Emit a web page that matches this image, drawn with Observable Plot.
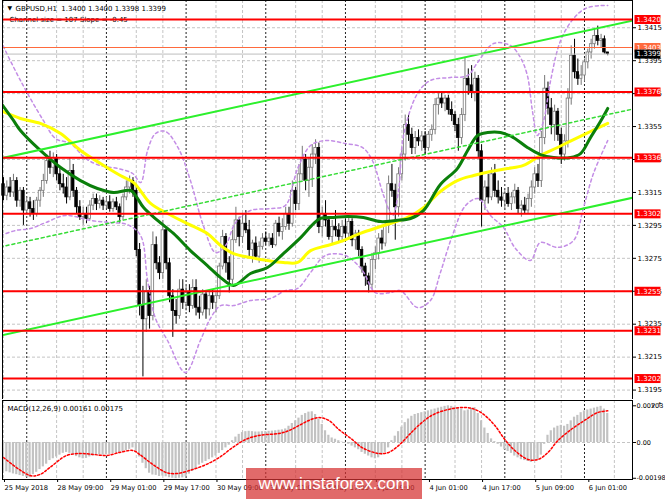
<!DOCTYPE html>
<html lang="en">
<head>
<meta charset="UTF-8">
<title>GBPUSD,H1</title>
<script src="https://cdn.jsdelivr.net/npm/d3@7"></script>
<script src="https://cdn.jsdelivr.net/npm/@observablehq/plot@0.6"></script>
<style>
  body { margin: 0; background: #fff; }
  #chart { position: relative; width: 665px; height: 499px; overflow: hidden; background: #fff; }
  #price, #macd { position: absolute; left: 0; }
  #price { top: 0; }
  #macd { top: 399px; }
  #wm { position: absolute; left: 246px; top: 468px; width: 176px; height: 31px;
        background: rgba(214, 48, 48, 0.72); color: #fff; text-align: center;
        font: 17px "Liberation Sans", Arial, sans-serif; line-height: 31px; }
</style>
</head>
<body>
<div id="chart">
  <div id="price"></div>
  <div id="macd"></div>
  <div id="wm">www.instaforex.com</div>
</div>
<script>
// time axis: one slot per H1 bar
const labelBars = [0, 16, 32, 48, 64, 80, 96, 112, 128, 144, 160, 176];
const labelText = ["25 May 2018", "28 May 09:00", "29 May 01:00", "29 May 17:00", "30 May 09:00", "31 May 01:00",
  "31 May 17:00", "1 Jun 09:00", "4 Jun 01:00", "4 Jun 17:00", "5 Jun 09:00", "6 Jun 01:00"];
const gridBars = [0, 16, 24, 40, 48, 64, 72, 88, 96, 112, 120, 136, 144, 160, 168, 184];
const daySep = [7, 31, 55, 79, 103, 127, 151, 175];

const priceTicks = [1.3195, 1.3215, 1.3235, 1.3255, 1.3275, 1.3295, 1.3315, 1.3335, 1.3355, 1.3375, 1.3395, 1.3415];
const levels = [1.3420, 1.3376, 1.3336, 1.3302, 1.3255, 1.3231, 1.3202];
const orangeLevel = 1.3403;
const bidLevel = 1.3399;

const open = [
1.3320,1.3313,1.3318,1.3315,1.3322,1.3310,1.3316,1.3304,1.3309,1.3305,
1.3302,1.3310,1.3316,1.3322,1.3334,1.3330,1.3336,1.3326,1.3320,1.3318,
1.3312,1.3328,1.3316,1.3306,1.3300,1.3302,1.3299,1.3307,1.3311,1.3308,
1.3310,1.3307,1.3309,1.3305,1.3309,1.3306,1.3300,1.3312,1.3318,1.3322,
1.3316,1.3280,1.3246,1.3238,1.3255,1.3240,1.3283,1.3272,1.3266,1.3292,
1.3272,1.3252,1.3243,1.3240,1.3256,1.3248,1.3254,1.3246,1.3257,1.3245,
1.3242,1.3253,1.3244,1.3252,1.3248,1.3252,1.3270,1.3288,1.3272,1.3262,
1.3286,1.3298,1.3288,1.3296,1.3292,1.3280,1.3284,1.3276,1.3282,1.3287,
1.3285,1.3287,1.3283,1.3296,1.3291,1.3294,1.3302,1.3296,1.3316,1.3308,
1.3326,1.3335,1.3322,1.3330,1.3338,1.3342,1.3294,1.3302,1.3298,1.3288,
1.3294,1.3292,1.3288,1.3294,1.3290,1.3297,1.3286,1.3290,1.3280,1.3270,
1.3264,1.3259,1.3274,1.3278,1.3287,1.3284,1.3295,1.3320,1.3316,1.3306,
1.3326,1.3338,1.3356,1.3350,1.3342,1.3348,1.3346,1.3349,1.3342,1.3350,
1.3353,1.3368,1.3372,1.3369,1.3372,1.3365,1.3362,1.3356,1.3348,1.3362,
1.3384,1.3380,1.3376,1.3384,1.3340,1.3310,1.3318,1.3312,1.3326,1.3316,
1.3312,1.3310,1.3314,1.3308,1.3312,1.3316,1.3305,1.3307,1.3304,1.3311,
1.3318,1.3326,1.3322,1.3348,1.3378,1.3366,1.3356,1.3364,1.3350,1.3338,
1.3346,1.3372,1.3398,1.3388,1.3384,1.3386,1.3394,1.3400,1.3405,1.3410,
1.3407,1.3408,1.3400];
const high = [
1.3324,1.3322,1.3324,1.3326,1.3324,1.3318,1.3318,1.3312,1.3312,1.3310,
1.3312,1.3318,1.3326,1.3338,1.3340,1.3339,1.3338,1.3330,1.3326,1.3324,
1.3336,1.3332,1.3318,1.3310,1.3306,1.3306,1.3310,1.3314,1.3314,1.3313,
1.3312,1.3312,1.3313,1.3311,1.3312,1.3308,1.3314,1.3322,1.3325,1.3324,
1.3320,1.3284,1.3258,1.3262,1.3258,1.3291,1.3288,1.3276,1.3298,1.3294,
1.3275,1.3256,1.3250,1.3262,1.3262,1.3258,1.3259,1.3262,1.3262,1.3252,
1.3256,1.3255,1.3256,1.3256,1.3254,1.3272,1.3292,1.3290,1.3276,1.3292,
1.3306,1.3300,1.3302,1.3304,1.3298,1.3286,1.3288,1.3285,1.3290,1.3291,
1.3290,1.3290,1.3298,1.3300,1.3299,1.3306,1.3306,1.3322,1.3318,1.3332,
1.3343,1.3338,1.3336,1.3344,1.3347,1.3345,1.3306,1.3310,1.3300,1.3298,
1.3304,1.3296,1.3298,1.3299,1.3300,1.3299,1.3292,1.3292,1.3282,1.3272,
1.3266,1.3278,1.3282,1.3290,1.3292,1.3298,1.3325,1.3332,1.3320,1.3330,
1.3342,1.3362,1.3362,1.3354,1.3352,1.3353,1.3352,1.3352,1.3352,1.3356,
1.3372,1.3375,1.3376,1.3374,1.3374,1.3370,1.3364,1.3360,1.3366,1.3397,
1.3390,1.3392,1.3388,1.3386,1.3344,1.3322,1.3326,1.3330,1.3332,1.3322,
1.3318,1.3316,1.3318,1.3315,1.3320,1.3318,1.3310,1.3312,1.3314,1.3322,
1.3330,1.3332,1.3352,1.3386,1.3382,1.3372,1.3368,1.3366,1.3354,1.3350,
1.3378,1.3404,1.3408,1.3396,1.3392,1.3396,1.3402,1.3408,1.3414,1.3416,
1.3411,1.3410,1.3400];
const low = [
1.3310,1.3310,1.3312,1.3312,1.3306,1.3306,1.3295,1.3302,1.3300,1.3298,
1.3300,1.3306,1.3312,1.3320,1.3326,1.3324,1.3322,1.3316,1.3314,1.3308,
1.3310,1.3312,1.3302,1.3298,1.3295,1.3296,1.3298,1.3304,1.3304,1.3305,
1.3304,1.3305,1.3303,1.3303,1.3304,1.3296,1.3298,1.3310,1.3314,1.3312,
1.3276,1.3240,1.3203,1.3230,1.3232,1.3237,1.3268,1.3262,1.3262,1.3268,
1.3248,1.3227,1.3235,1.3238,1.3244,1.3243,1.3242,1.3244,1.3240,1.3238,
1.3240,1.3238,1.3240,1.3244,1.3242,1.3250,1.3268,1.3266,1.3254,1.3258,
1.3284,1.3282,1.3284,1.3290,1.3276,1.3272,1.3274,1.3272,1.3280,1.3283,
1.3282,1.3281,1.3282,1.3288,1.3286,1.3292,1.3292,1.3294,1.3304,1.3304,
1.3322,1.3316,1.3312,1.3318,1.3332,1.3290,1.3288,1.3294,1.3286,1.3284,
1.3288,1.3284,1.3285,1.3288,1.3286,1.3282,1.3280,1.3276,1.3266,1.3258,
1.3254,1.3256,1.3268,1.3274,1.3280,1.3282,1.3290,1.3312,1.3286,1.3300,
1.3322,1.3334,1.3346,1.3338,1.3338,1.3343,1.3340,1.3338,1.3340,1.3346,
1.3350,1.3362,1.3366,1.3364,1.3362,1.3358,1.3352,1.3340,1.3344,1.3358,
1.3374,1.3372,1.3370,1.3336,1.3294,1.3304,1.3308,1.3310,1.3312,1.3308,
1.3306,1.3304,1.3306,1.3304,1.3308,1.3302,1.3300,1.3302,1.3302,1.3306,
1.3314,1.3318,1.3318,1.3344,1.3362,1.3350,1.3346,1.3346,1.3332,1.3334,
1.3342,1.3368,1.3384,1.3380,1.3380,1.3382,1.3390,1.3396,1.3402,1.3404,
1.3403,1.3399,1.3398];
const close = [
1.3313,1.3318,1.3315,1.3322,1.3310,1.3316,1.3304,1.3309,1.3305,1.3302,
1.3310,1.3316,1.3322,1.3334,1.3330,1.3336,1.3326,1.3320,1.3318,1.3312,
1.3328,1.3316,1.3306,1.3300,1.3302,1.3299,1.3307,1.3311,1.3308,1.3310,
1.3307,1.3309,1.3305,1.3309,1.3306,1.3300,1.3312,1.3318,1.3322,1.3316,
1.3280,1.3246,1.3238,1.3255,1.3240,1.3283,1.3272,1.3266,1.3292,1.3272,
1.3252,1.3243,1.3240,1.3256,1.3248,1.3254,1.3246,1.3257,1.3245,1.3242,
1.3253,1.3244,1.3252,1.3248,1.3252,1.3270,1.3288,1.3272,1.3262,1.3286,
1.3298,1.3288,1.3296,1.3292,1.3280,1.3284,1.3276,1.3282,1.3287,1.3285,
1.3287,1.3283,1.3296,1.3291,1.3294,1.3302,1.3296,1.3316,1.3308,1.3326,
1.3335,1.3322,1.3330,1.3338,1.3342,1.3294,1.3302,1.3298,1.3288,1.3294,
1.3292,1.3288,1.3294,1.3290,1.3297,1.3286,1.3290,1.3280,1.3270,1.3264,
1.3259,1.3274,1.3278,1.3287,1.3284,1.3295,1.3320,1.3316,1.3306,1.3326,
1.3338,1.3356,1.3350,1.3342,1.3348,1.3346,1.3349,1.3342,1.3350,1.3353,
1.3368,1.3372,1.3369,1.3372,1.3365,1.3362,1.3356,1.3348,1.3362,1.3384,
1.3380,1.3376,1.3384,1.3340,1.3310,1.3318,1.3312,1.3326,1.3316,1.3312,
1.3310,1.3314,1.3308,1.3312,1.3316,1.3305,1.3307,1.3304,1.3311,1.3318,
1.3326,1.3322,1.3348,1.3378,1.3366,1.3356,1.3364,1.3350,1.3338,1.3346,
1.3372,1.3398,1.3388,1.3384,1.3386,1.3394,1.3400,1.3405,1.3410,1.3407,
1.3408,1.3400,1.3399];

// indicator lines as [bar, price]
const maGreen = [[-0.9,1.33696],[3,1.33587],[5.1,1.33526],[11.1,1.33405],[17.2,1.33301],[23.2,1.33222],[28.3,1.33174],
  [33.1,1.33150],[38.3,1.33162],[39.8,1.33131],[42.2,1.33058],[46.4,1.32980],[51.2,1.32901],[56.3,1.32797],[61.4,1.32706],
  [65.4,1.32633],[69.3,1.32585],[74.4,1.32658],[79.5,1.32694],[84.3,1.32779],[89.5,1.32876],[93.4,1.32961],[95.5,1.32992],
  [99.4,1.32998],[103.6,1.33004],[108.4,1.32998],[113.6,1.32973],[118.1,1.32980],[122.6,1.32992],[126.5,1.33040],
  [131.6,1.33198],[136.7,1.33295],[139.8,1.33405],[142.8,1.33496],[145.8,1.33514],[149.7,1.33514],[153.6,1.33483],
  [157.8,1.33423],[161.7,1.33380],[165.7,1.33362],[170.8,1.33362],[173.8,1.33386],[176.8,1.33483],[179.8,1.33581],[182,1.33660]];
const maYellow = [[-0.9,1.33647],[5.1,1.33599],[11.1,1.33569],[17.2,1.33508],[23.2,1.33405],[29.2,1.33326],[35.2,1.33253],
  [39.2,1.33210],[44.3,1.33083],[49.4,1.33022],[55.4,1.32961],[61.4,1.32901],[65.4,1.32828],[69.3,1.32779],[74.4,1.32755],
  [79.5,1.32737],[84.3,1.32725],[88.6,1.32725],[92.5,1.32797],[97.6,1.32828],[101.5,1.32852],[107.5,1.32901],[114.5,1.32949],
  [121.7,1.32998],[126.5,1.33058],[131.6,1.33156],[136.7,1.33222],[141.6,1.33253],[146.7,1.33277],[151.8,1.33295],
  [156.6,1.33314],[161.7,1.33374],[166.9,1.33423],[171.7,1.33471],[176.8,1.33520],[182,1.33569]];
const bandUpper = [[-0.9,1.34072],[5.1,1.33830],[12,1.33587],[15.7,1.33477],[20.2,1.33447],[24.7,1.33356],[29.2,1.33313],
  [34.6,1.33295],[38.9,1.33265],[41.3,1.33210],[43.4,1.33405],[45.8,1.33508],[48.8,1.33520],[52.7,1.33417],[56.3,1.33222],
  [60.2,1.32949],[63.9,1.32785],[66.9,1.32828],[69.9,1.32967],[74.4,1.33040],[80.4,1.33052],[84.9,1.33071],[88.6,1.33295],
  [92.5,1.33435],[97,1.33465],[103,1.33447],[108.1,1.33423],[111.1,1.33344],[114.5,1.33131],[117.2,1.33010],[119,1.33162],
  [120.5,1.33496],[124.7,1.33751],[128.6,1.33830],[134.6,1.33848],[139.8,1.33860],[142.8,1.33939],[147.6,1.34054],
  [152.7,1.34042],[155.7,1.33969],[157.8,1.33860],[159.3,1.33647],[160.8,1.33496],[162.7,1.33587],[164.8,1.33830],
  [167.8,1.34072],[171.7,1.34206],[175.3,1.34267],[179.8,1.34285],[182,1.34285]];
const bandLower = [[-0.9,1.32888],[3.6,1.32919],[8.1,1.32931],[12.7,1.32967],[18.7,1.33010],[26.2,1.32980],[32.2,1.32967],
  [37.3,1.32955],[41.3,1.32888],[43.4,1.32615],[45.8,1.32384],[49.4,1.32251],[54.8,1.32057],[59.3,1.32251],[62.3,1.32384],
  [65.4,1.32463],[69.3,1.32463],[74.4,1.32494],[80.4,1.32506],[84.9,1.32554],[88.6,1.32567],[92.5,1.32664],[97,1.32767],
  [103,1.32767],[108.1,1.32676],[112,1.32542],[116.6,1.32542],[119.6,1.32554],[124.7,1.32451],[128.6,1.32494],
  [131.6,1.32664],[135.2,1.32888],[139.2,1.33071],[143.1,1.33113],[146.7,1.33010],[150.6,1.32937],[154.2,1.32810],
  [158.7,1.32737],[161.7,1.32846],[166.9,1.32816],[171.7,1.32858],[174.7,1.33058],[177.7,1.33265],[182,1.33465]];
const channelUpper = [[-1, 1.33356], [190, 1.34195]];
const channelMid = [[-1, 1.32819], [190, 1.33658]];
const channelLower = [[-1, 1.32281], [190, 1.33120]];

const macd = [
-0.00155,-0.00162,-0.00168,-0.00174,-0.00178,-0.00183,-0.00188,-0.00192,-0.00195,-0.00178,
-0.00165,-0.00150,-0.00135,-0.00120,-0.00100,-0.00090,-0.00080,-0.00070,-0.00060,-0.00055,
-0.00060,-0.00068,-0.00078,-0.00085,-0.00090,-0.00088,-0.00080,-0.00075,-0.00072,-0.00070,
-0.00070,-0.00068,-0.00066,-0.00062,-0.00058,-0.00058,-0.00052,-0.00045,-0.00038,-0.00030,
-0.00045,-0.00080,-0.00115,-0.00145,-0.00170,-0.00180,-0.00182,-0.00188,-0.00186,-0.00190,
-0.00195,-0.00198,-0.00200,-0.00198,-0.00196,-0.00190,-0.00175,-0.00160,-0.00145,-0.00125,
-0.00115,-0.00105,-0.00095,-0.00085,-0.00075,-0.00060,-0.00045,-0.00030,-0.00015,0.00010,
0.00030,0.00045,0.00055,0.00060,0.00062,0.00060,0.00058,0.00058,0.00060,0.00060,
0.00062,0.00063,0.00065,0.00068,0.00070,0.00075,0.00090,0.00105,0.00120,0.00135,
0.00150,0.00160,0.00168,0.00170,0.00155,0.00130,0.00100,0.00065,0.00040,0.00025,
0.00018,0.00010,0.00002,-0.00003,-0.00010,-0.00020,-0.00030,-0.00040,-0.00055,-0.00065,
-0.00075,-0.00085,-0.00090,-0.00085,-0.00070,-0.00055,-0.00030,0.00010,0.00035,0.00060,
0.00085,0.00110,0.00130,0.00145,0.00155,0.00160,0.00165,0.00170,0.00175,0.00180,
0.00185,0.00190,0.00195,0.00200,0.00203,0.00200,0.00195,0.00192,0.00185,0.00175,
0.00180,0.00190,0.00193,0.00160,0.00120,0.00080,0.00050,0.00020,0.00005,-0.00010,
-0.00025,-0.00040,-0.00050,-0.00060,-0.00075,-0.00085,-0.00095,-0.00100,-0.00105,-0.00110,
-0.00105,-0.00095,-0.00070,-0.00010,0.00040,0.00065,0.00080,0.00090,0.00095,0.00090,
0.00100,0.00120,0.00140,0.00150,0.00165,0.00175,0.00180,0.00185,0.00190,0.00195,
0.00200,0.00185,0.00161];
const signal = [[0,-0.00083],[8,-0.00183],[11,-0.00177],[14,-0.00138],[19,-0.00072],[23,-0.00061],[27,-0.00066],
  [31,-0.00072],[35,-0.00055],[39,-0.00044],[41,-0.00066],[45,-0.00122],[49,-0.00166],[52,-0.00172],[56,-0.00155],
  [61,-0.00122],[65,-0.00083],[69,-0.00028],[73,0.00017],[77,0.00039],[83,0.0005],[86,0.00066],[89,0.00094],[92,0.00122],
  [95,0.00138],[98,0.00122],[101,0.00072],[105,0.00017],[108,-0.00028],[113,-0.00061],[116,-0.00055],[119,-0.00017],
  [122,0.00039],[125,0.00094],[129,0.0015],[134,0.00183],[139,0.00194],[142,0.00183],[145,0.0015],[148,0.00094],
  [151,0.00017],[154,-0.00044],[158,-0.00094],[161,-0.00094],[164,-0.00055],[167,0.00011],[171,0.00072],[175,0.00122],
  [179,0.00166],[182,0.00175]];
const macdTicks = [0.00203, 0, -0.00198];
const macdTickText = ["0.00203", "0.00", "-0.00198"];

const titleText = "GBPUSD,H1\u00a0 1.3400 1.3400 1.3398 1.3399";
const channelText = "Channel size = 107 Slope = -0.45";
const macdText = "MACD(12,26,9) 0.00161 0.00175";

const xDomain = [-0.3, 189.46];
const font = {fontFamily: "DejaVu Sans", fontSize: "7px", background: "#fff", color: "#000"};
const gridStyle = {stroke: "#c4c4c4", strokeDasharray: "3,2"};
const sepStyle = {stroke: "#222", strokeDasharray: "2,2"};
const boxSymbol = {draw(ctx) { ctx.rect(-13, -4.5, 26, 9); }};

const candles = close.map((c, i) => ({i, o: open[i], h: high[i], l: low[i], c, up: c >= open[i]}));

const pricePlot = Plot.plot({
  width: 665, height: 400,
  marginLeft: 2, marginRight: 33, marginTop: 0, marginBottom: 1,
  x: {domain: xDomain, axis: null},
  y: {domain: [1.318928, 1.343154], axis: null},
  color: {type: "identity"},
  style: font,
  marks: [
    Plot.ruleX(gridBars, gridStyle),
    Plot.ruleY(priceTicks, gridStyle),
    Plot.ruleX(daySep, sepStyle),
    Plot.ruleX(candles, {x: "i", y1: "l", y2: "h", stroke: d => d.up ? "#777" : "#000"}),
    Plot.rect(candles, {
      x1: d => d.i - 0.38, x2: d => d.i + 0.38,
      y1: d => Math.min(d.o, d.c), y2: d => Math.max(d.o, d.c),
      fill: d => d.up ? "#fff" : "#000", stroke: d => d.up ? "#777" : "#000", strokeWidth: 0.8
    }),
    Plot.line(bandUpper, {curve: "catmull-rom", stroke: "#c48ee6", strokeDasharray: "3,3", clip: true}),
    Plot.line(bandLower, {curve: "catmull-rom", stroke: "#c48ee6", strokeDasharray: "3,3", clip: true}),
    Plot.line(maYellow, {curve: "catmull-rom", stroke: "#ffff00", strokeWidth: 3, clip: true}),
    Plot.line(maGreen, {curve: "catmull-rom", stroke: "#0b7f0b", strokeWidth: 3, clip: true}),
    Plot.line(channelMid, {stroke: "#36dc36", strokeDasharray: "3,3", clip: true}),
    Plot.line(channelUpper, {stroke: "#2cf02c", strokeWidth: 2, clip: true}),
    Plot.line(channelLower, {stroke: "#2cf02c", strokeWidth: 2, clip: true}),
    Plot.text([channelText], {text: d => d, frameAnchor: "top-left", dx: 7, dy: 19, textAnchor: "start", lineAnchor: "middle"}),
    Plot.ruleY([bidLevel], {stroke: "#bdbdbd"}),
    Plot.ruleY([orangeLevel], {stroke: "#ff6a3d"}),
    Plot.ruleY(levels, {stroke: "#ff0000", strokeWidth: 2}),
    Plot.frame({stroke: "#000"}),
    Plot.axisY({anchor: "right", ticks: priceTicks, tickFormat: d => d.toFixed(4), tickSize: 3, tickPadding: 2}),
    Plot.dot(levels, {y: d => d, frameAnchor: "right", dx: 15, symbol: boxSymbol, fill: "#ff0000", stroke: "none"}),
    Plot.text(levels, {y: d => d, text: d => d.toFixed(4), frameAnchor: "right", dx: 4, textAnchor: "start", fill: "#fff"}),
    Plot.dot([orangeLevel], {y: d => d, frameAnchor: "right", dx: 15, symbol: boxSymbol, fill: "#ff6a3d", stroke: "none"}),
    Plot.text([orangeLevel], {y: d => d, text: d => d.toFixed(4), frameAnchor: "right", dx: 4, textAnchor: "start", fill: "#fff"}),
    Plot.dot([bidLevel], {y: d => d, frameAnchor: "right", dx: 15, symbol: boxSymbol, fill: "#000", stroke: "none"}),
    Plot.text([bidLevel], {y: d => d, text: d => d.toFixed(4), frameAnchor: "right", dx: 4, textAnchor: "start", fill: "#fff"}),
    Plot.text(["\u25BC"], {text: d => d, frameAnchor: "top-left", dx: 5, dy: 8, textAnchor: "start", lineAnchor: "middle", fontSize: 6}),
    Plot.text([titleText], {text: d => d, frameAnchor: "top-left", dx: 13, dy: 8, textAnchor: "start", lineAnchor: "middle"})
  ]
});
document.querySelector("#price").append(pricePlot);

const macdBars = macd.map((v, i) => ({i, v}));

const macdPlot = Plot.plot({
  width: 665, height: 100,
  marginLeft: 2, marginRight: 33, marginTop: 1, marginBottom: 20,
  x: {domain: xDomain, axis: null},
  y: {domain: [-0.002048, 0.002324], axis: null},
  style: font,
  marks: [
    Plot.ruleX(gridBars, gridStyle),
    Plot.ruleX(daySep, sepStyle),
    Plot.ruleY([0], gridStyle),
    Plot.rect(macdBars, {x1: d => d.i - 0.33, x2: d => d.i + 0.33, y1: 0, y2: "v", fill: "#c2c2c2"}),
    Plot.line(signal, {curve: "catmull-rom", stroke: "#ff0000", strokeDasharray: "2,2"}),
    Plot.frame({stroke: "#000"}),
    Plot.axisY({anchor: "right", ticks: macdTicks, tickFormat: d => macdTickText[macdTicks.indexOf(d)],
      tickSize: 3, tickPadding: 1, fontSize: 6.5}),
    Plot.axisX({anchor: "bottom", ticks: labelBars, tickFormat: d => labelText[labelBars.indexOf(d)],
      tickSize: 3, tickPadding: 3, textAnchor: "start", dx: 1, fontSize: 6.7}),
    Plot.text([macdText], {text: d => d, frameAnchor: "top-left", dx: 5, dy: 8, textAnchor: "start", lineAnchor: "middle"})
  ]
});
document.querySelector("#macd").append(macdPlot);
</script>
</body>
</html>
